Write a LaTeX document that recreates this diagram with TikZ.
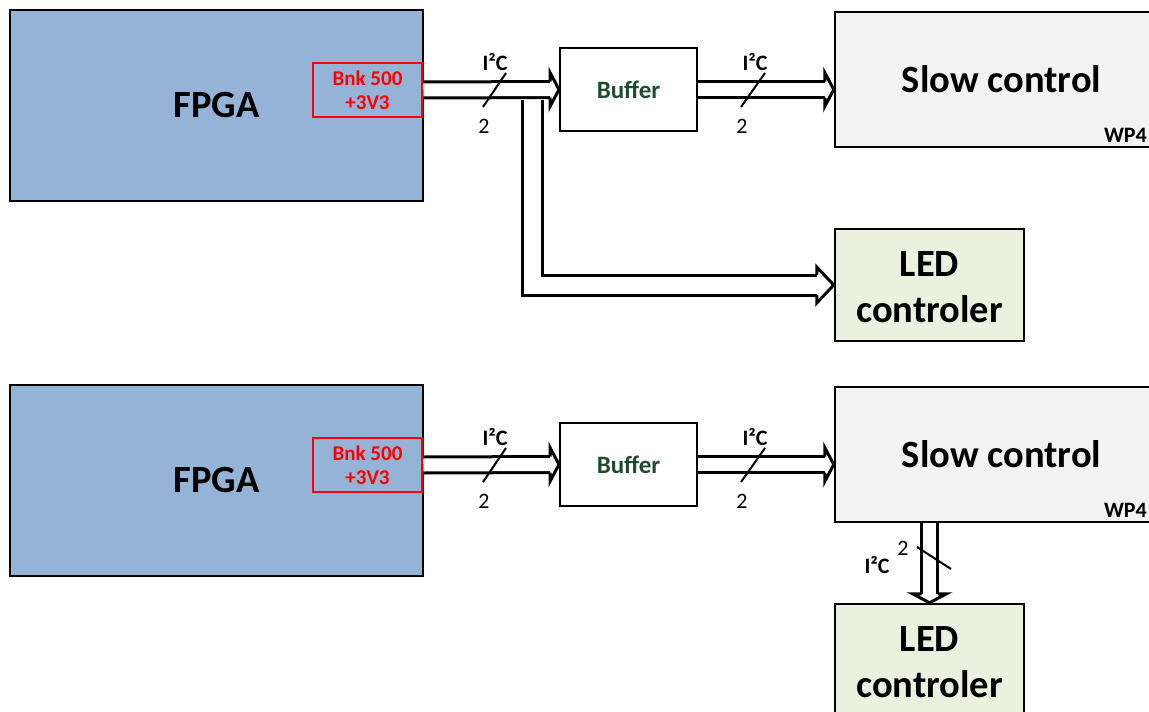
\documentclass[tikz,border=0pt]{standalone}
\usepackage{fontspec}
\setmainfont{Carlito}
\usetikzlibrary{arrows.meta,calc}
\tikzset{>=Stealth}
\definecolor{fpgablue}{RGB}{149,179,215}
\definecolor{slowgray}{RGB}{242,242,242}
\definecolor{ledgreen}{RGB}{235,241,222}
\definecolor{bufgreen}{RGB}{30,76,44}
\tikzset{
  block/.style={draw, line width=2.5pt, inner sep=0pt, align=center,
    font=\bfseries\fontsize{38.5}{46}\selectfont},
  fpgabox/.style={block, fill=fpgablue, minimum width=413pt, minimum height=191pt},
  bnkbox/.style={draw=red, line width=2.5pt, text=red, align=center, inner sep=0pt,
    minimum width=109pt, minimum height=54pt, font=\bfseries\fontsize{21}{24}\selectfont},
  bufbox/.style={block, line width=2pt, text=bufgreen, minimum width=137pt, minimum height=83pt,
    font=\bfseries\fontsize{25}{28}\selectfont},
  slowbox/.style={block, fill=slowgray, minimum width=333pt, minimum height=135pt},
  ledbox/.style={block, fill=ledgreen, minimum width=189pt, minimum height=112pt},
  lbl/.style={inner sep=0pt, font=\bfseries\fontsize{22}{24}\selectfont},
  num/.style={inner sep=0pt, font=\fontsize{22}{24}\selectfont},
  bus/.style={double, double distance=13pt, line width=3pt, shorten >=9pt},
  widebus/.style={double, double distance=17pt, line width=3pt, shorten >=17pt},
  slash/.style={line width=2pt},
  head/.pic={\draw[line width=3pt, fill=white]
    (-9,-8) -- (-9,-17) -- (0,0) -- (-9,17) -- (-9,8);},
  widehead/.pic={\draw[line width=3pt, fill=white]
    (-17,-10) -- (-17,-18) -- (0,0) -- (-17,18) -- (-17,10);}
}
\begin{document}
\begin{tikzpicture}[x=1pt,y=-1pt]
\useasboundingbox (0,0) rectangle (1149,712);

% Upper chain: FPGA feeds slow control and LED controler
\node[fpgabox] (fpga) at (216.5,105.5) {FPGA};
\node[bnkbox] (bnk) at (367.5,90) {Bnk 500\\+3V3};
\node[bufbox] (buf) at (628.5,89.5) {Buffer};
\node[slowbox] (slow) at (1001.5,79.5) {Slow control};
\node[lbl, anchor=south east] (wp) at (1147,143) {WP4};
\node[ledbox] (led) at (929.5,285) {\rule{0pt}{30pt}LED\\controler};

\coordinate (tap) at (532,100);
\draw[widebus] (tap) |- (led.west);
\pic at (led.west) {widehead};
\draw[bus] (bnk.east) -- (buf.west);
\pic at (buf.west) {head};
\coordinate (slowin) at (buf.east -| slow.west);
\draw[bus] (buf.east) -- (slowin);
\pic at (slowin) {head};

\draw[slash] (494.5,90) ++(-11.5,17) -- ++(23,-34);
\node[lbl] (i2ca) at (495,62) {I²C};
\node[num] (na) at (484,126) {2};
\draw[slash] (753,90) ++(-12,17) -- ++(24,-34);
\node[lbl] (i2cb) at (755,62) {I²C};
\node[num] (nb) at (742,126) {2};

% Lower chain: LED controler hangs off slow control
\node[fpgabox] (fpgab) at (216.5,480.5) {FPGA};
\node[bnkbox] (bnkb) at (367.5,465) {Bnk 500\\+3V3};
\node[bufbox] (bufb) at (628.5,464.5) {Buffer};
\node[slowbox] (slowb) at (1001.5,454.5) {Slow control};
\node[lbl, anchor=south east] (wpb) at (1147,518) {WP4};
\node[ledbox] (ledb) at (929.5,660) {\rule{0pt}{30pt}LED\\controler};

\draw[bus] (bnkb.east) -- (bufb.west);
\pic at (bufb.west) {head};
\coordinate (slowbin) at (bufb.east -| slowb.west);
\draw[bus] (bufb.east) -- (slowbin);
\pic at (slowbin) {head};
\coordinate (ledout) at (ledb.north |- slowb.south);
\draw[bus] (ledout) -- (ledb.north);
\pic[rotate=-90] at (ledb.north) {head};

\draw[slash] (494.5,465) ++(-11.5,17) -- ++(23,-34);
\node[lbl] (i2cc) at (495,437) {I²C};
\node[num] (nc) at (484,501) {2};
\draw[slash] (753,465) ++(-12,17) -- ++(24,-34);
\node[lbl] (i2cd) at (755,437) {I²C};
\node[num] (nd) at (742,501) {2};
\draw[slash] (934,558) ++(-17,-11) -- ++(34,22);
\node[num] (ne) at (903,548) {2};
\node[lbl] (i2ce) at (877,565) {I²C};
\end{tikzpicture}
\end{document}
